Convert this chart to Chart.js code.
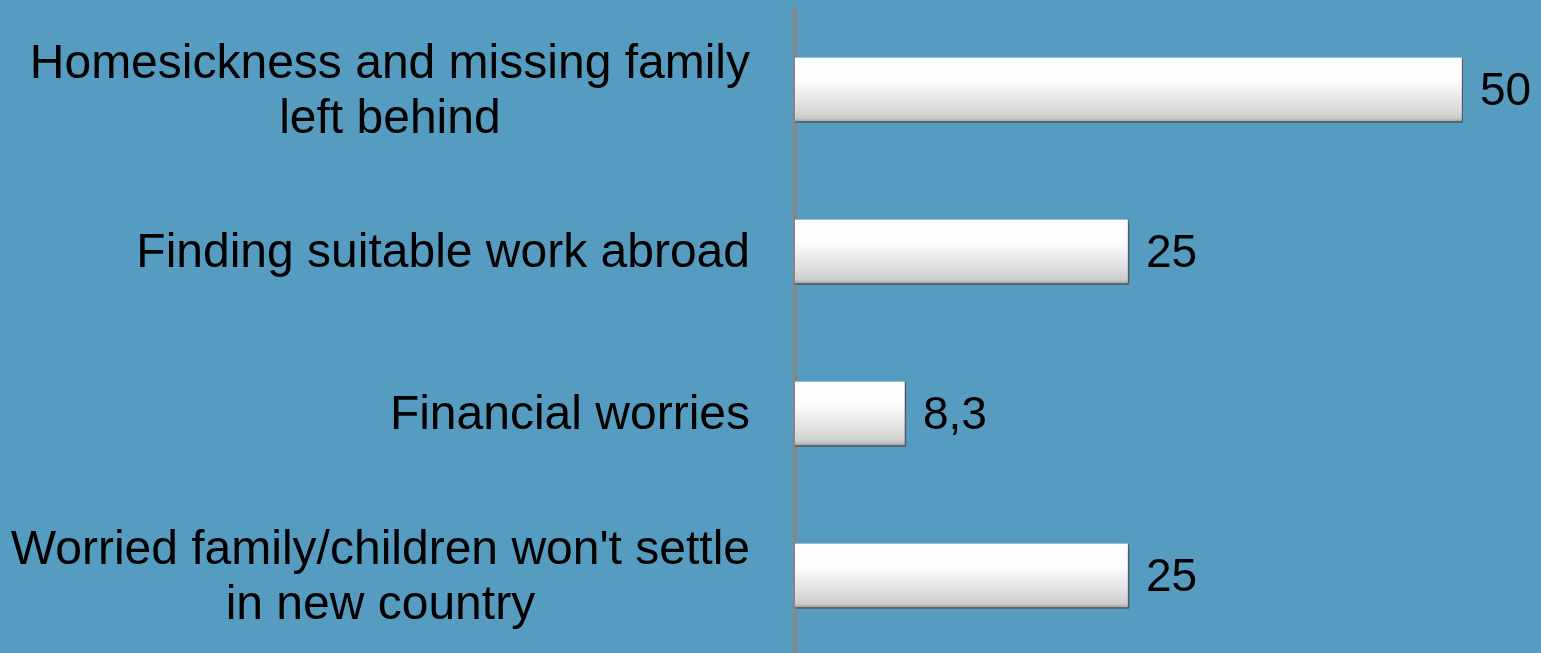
<!DOCTYPE html>
<html>
<head>
<meta charset="utf-8">
<script src="https://cdn.jsdelivr.net/npm/chart.js@4/dist/chart.umd.min.js"></script>
<style>
  html, body { margin: 0; padding: 0; overflow: hidden; background: #569CC0; }
  #wrap { position: relative; width: 1541px; height: 657px; }
</style>
</head>
<body>
<div id="wrap"><canvas id="c"></canvas></div>
<script>
const categories = [
  ["Homesickness and missing family", "left behind"],
  ["Finding suitable work abroad"],
  ["Financial worries"],
  ["Worried family/children won't settle", "in new country"]
];
const values = [50, 25, 8.3, 25];

const FONT = '"Liberation Sans", Arial, sans-serif';

const labelPlugin = {
  id: 'labels',
  afterDatasetsDraw(chart) {
    const ctx = chart.ctx;
    const y = chart.scales.y;
    const meta = chart.getDatasetMeta(0);
    ctx.save();
    ctx.fillStyle = '#000';
    ctx.textBaseline = 'middle';
    ctx.font = '48px ' + FONT;
    const rightX = 750;
    categories.forEach((lines, i) => {
      const cy = y.getPixelForValue(i);
      const widths = lines.map(l => ctx.measureText(l).width);
      const w = Math.max(...widths);
      const cx = rightX - w / 2;
      const lh = 55;
      ctx.textAlign = 'center';
      lines.forEach((l, k) => {
        const ly = cy + 2 + (k - (lines.length - 1) / 2) * lh;
        ctx.fillText(l, cx, ly);
      });
    });
    ctx.font = '46px ' + FONT;
    ctx.textAlign = 'left';
    meta.data.forEach((el, i) => {
      ctx.fillText(String(values[i]).replace('.', ','), el.x + 17, el.y + 2);
    });
    ctx.restore();
  }
};

const shadowPlugin = {
  id: 'barShadow',
  beforeDatasetDraw(chart) {
    const ctx = chart.ctx;
    ctx.save();
    ctx.shadowColor = 'rgba(20,50,70,0.45)';
    ctx.shadowOffsetX = 1;
    ctx.shadowOffsetY = 3;
    ctx.shadowBlur = 4;
  },
  afterDatasetDraw(chart) {
    chart.ctx.restore();
  }
};

function barFill(c) {
  const ys = c.chart.scales && c.chart.scales.y;
  if (!ys || c.type !== 'data') return '#f4f4f4';
  const cy = ys.getPixelForValue(c.dataIndex);
  if (!isFinite(cy)) return '#f4f4f4';
  const g = c.chart.ctx.createLinearGradient(0, cy - 32.5, 0, cy + 32.5);
  g.addColorStop(0, '#ffffff');
  g.addColorStop(0.35, '#fdfdfd');
  g.addColorStop(0.8, '#dadada');
  g.addColorStop(0.93, '#cbcbcb');
  g.addColorStop(1, '#959595');
  return g;
}

const chart = new Chart(document.getElementById('c'), {
  type: 'bar',
  data: {
    labels: categories.map(l => l.join(' ')),
    datasets: [{
      data: values,
      barThickness: 65,
      backgroundColor: barFill,
      borderColor: '#6a6a6a',
      borderWidth: { top: 0, left: 0, right: 1.5, bottom: 1.5 },
      borderSkipped: false
    }]
  },
  options: {
    indexAxis: 'y',
    responsive: true,
    maintainAspectRatio: false,
    animation: false,
    layout: { padding: { top: 9, right: 78, bottom: 0, left: 0 } },
    plugins: { legend: { display: false }, tooltip: { enabled: false } },
    scales: {
      x: { display: false, min: 0, max: 50 },
      y: {
        afterFit: (s) => { s.width = 795; },
        ticks: { display: false },
        grid: { display: false, drawTicks: false },
        border: { display: true, color: '#868686', width: 4 }
      }
    }
  },
  plugins: [shadowPlugin, labelPlugin]
});
chart.update();
</script>
</body>
</html>
